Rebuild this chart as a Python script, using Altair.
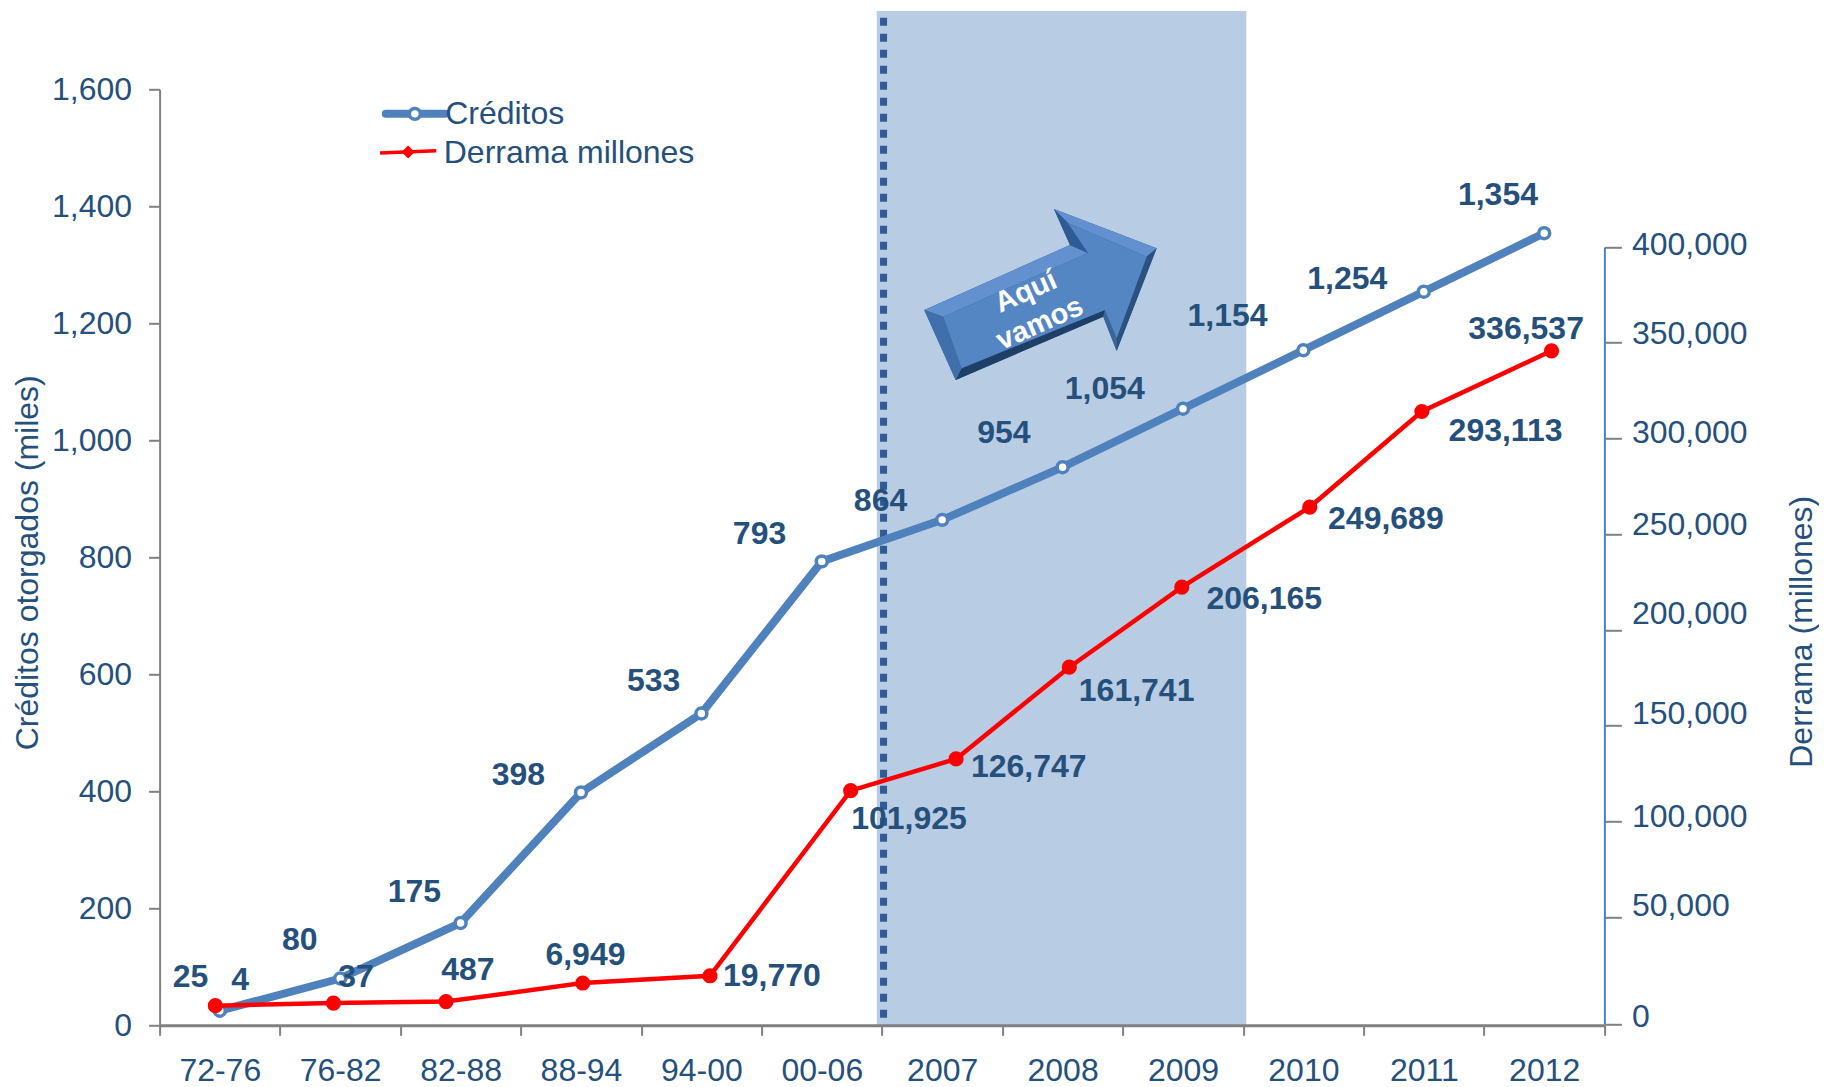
import altair as alt
import pandas as pd

# ---- categories and series ----
categories = ["72-76", "76-82", "82-88", "88-94", "94-00", "00-06",
              "2007", "2008", "2009", "2010", "2011", "2012"]
creditos = [25, 80, 175, 398, 533, 793, 864, 954, 1054, 1154, 1254, 1354]
creditos_x = [0.5, 1.5, 2.5, 3.5, 4.5, 5.5, 6.5, 7.5, 8.5, 9.5, 10.5, 11.5]
derrama_lbl = ["4", "37", "487", "6,949", "19,770", "101,925", "126,747",
               "161,741", "206,165", "249,689", "293,113", "336,537"]
derrama_pos = [8600, 9800, 10500, 19200, 22600, 116100, 132700,
               180600, 222400, 264200, 314100, 345800]
derrama_x = [0.463, 1.444, 2.379, 3.514, 4.571, 5.74,
             6.615, 7.556, 8.49, 9.553, 10.484, 11.561]

# label anchors, in axis units (period, left-axis value)
cred_lbl_x = [0.257, 1.164, 2.117, 2.98, 4.103, 4.983, 5.988, 7.012, 7.85, 8.87, 9.864, 11.116]
cred_lbl_y = [83, 146, 228, 428, 589, 840, 897, 1012, 1087, 1212, 1275, 1419]
der_lbl_x = [0.668, 1.631, 2.56, 3.537, 5.086, 6.224, 7.219, 8.115, 9.175, 10.185, 11.179, 11.35]
der_lbl_y = [77, 83, 94, 120, 85, 352, 441, 571, 729, 865, 1016, 1190]

left_ticks = [0, 200, 400, 600, 800, 1000, 1200, 1400, 1600]
right_ticks = [0, 50000, 100000, 150000, 200000, 250000, 300000, 350000, 400000]
right_label_shift = [-7.3, -11.6, -5, -12.6, -16.3, -10, -6.3, -9, -2.3]

band_x = [5.957, 9.026]
band_top = 1734
marker_x = 6.013
marker_y = [13, 1724]

NAVY = "#25507C"
BLUE = "#4F81BD"
RED = "#FF0000"
GREY = "#808080"
FONT = "Liberation Sans"

xs = alt.Scale(domain=[0, 12], nice=False, zero=False)
ys = alt.Scale(domain=[0, 1600], nice=False)
yr = alt.Scale(domain=[0, 50000, 400000], range=[934.7, 828, 157.7], nice=False)


def X(field="x"):
    return alt.X(f"{field}:Q", scale=xs, axis=None)


def Y(field="y"):
    return alt.Y(f"{field}:Q", scale=ys, axis=None)


cred_df = pd.DataFrame({"x": creditos_x, "y": creditos, "cat": categories})
der_df = pd.DataFrame({"x": derrama_x, "y": derrama_pos})
cred_lbl = pd.DataFrame({"x": cred_lbl_x, "y": cred_lbl_y,
                         "t": [f"{v:,}" for v in creditos]})
der_lbl = pd.DataFrame({"x": der_lbl_x, "y": der_lbl_y, "t": derrama_lbl})

# band and dashed marker
band = alt.Chart(pd.DataFrame({"x": [band_x[0]], "x2": [band_x[1]], "y": [0], "y2": [band_top]})).mark_rect(
    color="#B8CCE4").encode(x=X(), x2="x2:Q", y=Y(), y2="y2:Q")
dashed = alt.Chart(pd.DataFrame({"x": [marker_x], "y": [marker_y[0]], "y2": [marker_y[1]]})).mark_rule(
    color="#2F5C92", strokeWidth=7, strokeDash=[8, 8]).encode(x=X(), y=Y(), y2="y2:Q")

# axes
x_ticks = alt.Chart(pd.DataFrame({"x": [0, 12]})).mark_point(opacity=0).encode(
    x=alt.X("x:Q", scale=xs, axis=alt.Axis(
        orient="bottom", values=list(range(13)), labels=False, title=None, grid=False, zindex=1,
        domainColor=GREY, domainWidth=3, tickColor=GREY, tickWidth=2, tickSize=10)))
x_labels = alt.Chart(pd.DataFrame({"x": [0, 12]})).mark_point(opacity=0).encode(
    x=alt.X("x:Q", scale=xs, axis=alt.Axis(
        orient="bottom", values=creditos_x, title=None, grid=False, domain=False, ticks=False,
        labelExpr="[" + ",".join(f"'{c}'" for c in categories) + "][floor(datum.value)]",
        labelFont=FONT, labelFontSize=32, labelColor=NAVY, labelPadding=30,
        labelOverlap=False, labelFlush=False)))
y_left = alt.Chart(pd.DataFrame({"y": [0, 1600]})).mark_point(opacity=0).encode(
    y=alt.Y("y:Q", scale=ys, axis=alt.Axis(
        values=left_ticks, format=",d", grid=False, title="Créditos otorgados (miles)",
        titleFont=FONT, titleFontSize=32, titleFontWeight="normal", titleColor=NAVY,
        titleX=-131.6, titleY=473, titleAngle=270, titleBaseline="middle", titleAlign="center",
        labelFont=FONT, labelFontSize=32, labelColor=NAVY, labelPadding=17, labelOverlap=False,
        domainColor=GREY, domainWidth=2, tickColor=GREY, tickWidth=2, tickSize=11)))
y_right = alt.Chart(pd.DataFrame({"y": [0, 400000]})).mark_point(opacity=0).encode(
    y=alt.Y("y:Q", scale=yr, axis=alt.Axis(
        orient="right", values=right_ticks, format=",d", grid=False, title="Derrama (millones)",
        titleFont=FONT, titleFontSize=32, titleFontWeight="normal", titleColor=NAVY,
        titleX=197, titleY=542, titleAngle=270, titleBaseline="middle", titleAlign="center",
        labelFont=FONT, labelFontSize=32, labelColor=NAVY, labelPadding=10, labelOverlap=False,
        labelOffset={"condition": [{"test": f"datum.value === {t}", "value": s}
                                   for t, s in zip(right_ticks, right_label_shift)], "value": 0},
        domainColor=BLUE, domainWidth=2, tickColor=GREY, tickWidth=2, tickSize=17)))

# series
blue_line = alt.Chart(cred_df).mark_line(color=BLUE, strokeWidth=8).encode(x=X(), y=Y())
blue_pts = alt.Chart(cred_df).mark_point(
    filled=True, fill="white", stroke=BLUE, strokeWidth=3.5, size=120, opacity=1).encode(x=X(), y=Y())
yR = alt.Y("y:Q", scale=yr, axis=None)
red_line = alt.Chart(der_df).mark_line(color=RED, strokeWidth=4.5).encode(x=X(), y=yR)
red_pts = alt.Chart(der_df).mark_point(filled=True, color=RED, size=230, opacity=1).encode(x=X(), y=yR)

label_style = dict(font=FONT, fontSize=32, fontWeight="bold", color=NAVY,
                   align="center", baseline="middle")
cred_text = alt.Chart(cred_lbl).mark_text(**label_style).encode(x=X(), y=Y(), text="t:N")
der_text = alt.Chart(der_lbl).mark_text(**label_style).encode(x=X(), y=Y(), text="t:N")

# legend drawn in place
leg_blue = pd.DataFrame({"x": [1.879, 2.370], "y": [1558, 1558]})
leg_red = pd.DataFrame({"x": [1.831, 2.298], "y": [1491, 1495]})
leg_layers = [
    alt.Chart(leg_blue).mark_line(color=BLUE, strokeWidth=8, strokeCap="round").encode(x=X(), y=Y()),
    alt.Chart(pd.DataFrame({"x": [2.120], "y": [1558]})).mark_point(
        filled=True, fill="white", stroke=BLUE, strokeWidth=3.5, size=120, opacity=1).encode(x=X(), y=Y()),
    alt.Chart(leg_red).mark_line(color=RED, strokeWidth=3.5).encode(x=X(), y=Y()),
    alt.Chart(pd.DataFrame({"x": [2.064], "y": [1493]})).mark_point(
        filled=True, color=RED, shape="diamond", size=170, opacity=1).encode(x=X(), y=Y()),
    alt.Chart(pd.DataFrame({"x": [2.372, 2.36], "y": [1558, 1491], "t": ["Créditos", "Derrama millones"]})).mark_text(
        font=FONT, fontSize=32, color=NAVY, align="left", baseline="middle").encode(x=X(), y=Y(), text="t:N"),
]

# arrow callout
arrow_at = pd.DataFrame({"x": [7.312], "y": [1248.4]})
arrow_parts = [
    ("M-115.7,15L-84.3,85L63.3,21.7L76.7,56L116.7,-46.7L14,-86L30,-50Z", "#2F5C94"),
    ("M-115.7,15L30,-50L48,-42L-96.7,21.7Z", "#6390CE"),
    ("M14,-86L116.7,-46.7L106.7,-38.3L28,-72Z", "#6390CE"),
    ("M14,-86L30,-50L48,-42L28,-72Z", "#2E5B96"),
    ("M-84.3,85L63.3,21.7L65,15L-78.3,73.3Z", "#1E3F66"),
    ("M-115.7,15L-84.3,85L-78.3,73.3L-96.7,21.7Z", "#3F70AC"),
    ("M116.7,-46.7L76.7,56L76.7,43.3L106.7,-38.3Z", "#2B5180"),
    ("M63.3,21.7L76.7,56L76.7,43.3L65,15Z", "#3A6699"),
    ("M-96.7,21.7L-78.3,73.3L65,15L76.7,43.3L106.7,-38.3L28,-72L48,-42Z", "#5586C4"),
]
arrow_layers = [
    alt.Chart(arrow_at).mark_point(shape=p, size=4, filled=True, fill=c, strokeWidth=0, opacity=1).encode(x=X(), y=Y())
    for p, c in arrow_parts
]
arrow_text = alt.Chart(pd.DataFrame({"x": [7.195, 7.31], "y": [1254, 1200], "t": ["Aquí", "vamos"]})).mark_text(
    font=FONT, fontSize=29, fontWeight="bold", color="white", align="center", baseline="middle", angle=336
).encode(x=X(), y=Y(), text="t:N")

chart = alt.layer(
    band, dashed, x_ticks, x_labels, y_left, y_right,
    blue_line, blue_pts, red_line, red_pts, *leg_layers, *arrow_layers, arrow_text,
    cred_text, der_text,
).resolve_scale(y="independent").resolve_axis(x="independent", y="independent").properties(
    width=1444.8, height=936,
    padding={"left": 151.6, "top": 81.3, "right": 214.5, "bottom": 63},
    autosize=alt.AutoSizeParams(type="none"),
    background="white",
).configure_view(stroke=None)

chart.save("out.html", embed_options={"renderer": "svg", "actions": False})
